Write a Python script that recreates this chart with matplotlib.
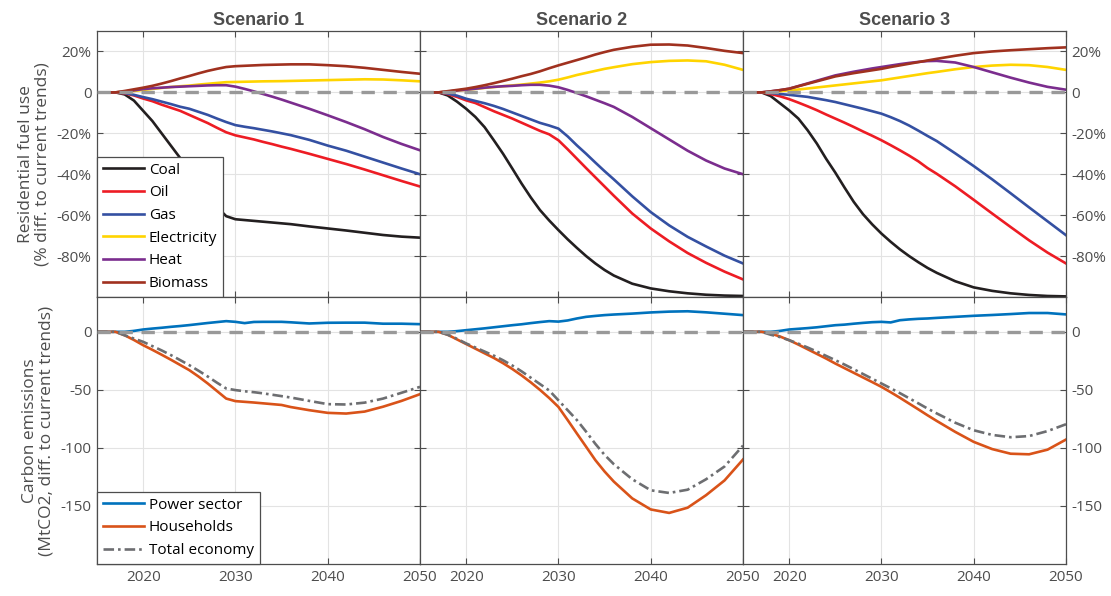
import numpy as np
import matplotlib
matplotlib.use('Agg')
import matplotlib.pyplot as plt

# years sampled for every series
years = [2015, 2017, 2018, 2019, 2020, 2021, 2022, 2023, 2024, 2025, 2026, 2027, 2028, 2029,
         2030, 2031, 2032, 2033, 2034, 2035, 2036, 2038, 2040, 2042, 2044, 2046, 2048, 2050]

fuels = ['Coal', 'Oil', 'Gas', 'Electricity', 'Heat', 'Biomass']
sectors = ['Power sector', 'Households', 'Total economy']
scenarios = ['Scenario 1', 'Scenario 2', 'Scenario 3']

# residential fuel use, % difference to current trends
coal_1 = [0, 0, -1, -4, -9, -14, -20, -26, -32, -38, -44, -50, -56, -60.5,
          -62, -62.4, -62.8, -63.2, -63.6, -64, -64.4, -65.5, -66.5, -67.5, -68.6, -69.7, -70.5, -71]
oil_1 = [0, 0, -0.5, -1.5, -3, -4.3, -6, -7.5, -9, -11, -13, -15, -17.3, -19.5,
         -21, -22, -23, -24.2, -25.3, -26.5, -27.6, -30, -32.5, -35, -37.7, -40.5, -43.3, -46]
gas_1 = [0, 0, -0.3, -1.2, -2.3, -3.3, -4.5, -5.7, -7, -8, -9.5, -11, -12.8, -14.5,
         -16, -16.8, -17.5, -18.3, -19.1, -20, -20.9, -23.2, -26, -28.5, -31.4, -34.3, -37.2, -40]
elec_1 = [0, 0, 0.3, 0.7, 1.2, 1.7, 2.2, 2.6, 3, 3.3, 3.8, 4.2, 4.6, 5,
          5.1, 5.2, 5.3, 5.4, 5.45, 5.5, 5.6, 5.8, 6, 6.2, 6.4, 6.3, 5.9, 5.4]
heat_1 = [0, 0, 0.4, 1, 1.6, 2, 2.3, 2.6, 2.8, 3, 3.2, 3.4, 3.5, 3.5,
          2.8, 1.7, 0.5, -0.8, -2.1, -3.5, -5, -8, -11.2, -14.5, -18, -21.8, -25.2, -28.3]
bio_1 = [0, 0, 0.7, 1.5, 2.3, 3.2, 4.3, 5.5, 6.8, 8, 9.3, 10.5, 11.5, 12.4,
         12.8, 13, 13.2, 13.4, 13.5, 13.6, 13.7, 13.7, 13.3, 12.8, 12, 11, 10, 9.1]

coal_2 = [0, 0, -1.5, -4.5, -8, -12, -17, -23.4, -30, -37.2, -44.5, -51.3, -57.5, -62.6,
          -67.3, -71.8, -76, -80, -83.6, -86.8, -89.5, -93.5, -95.8, -97.2, -98.2, -98.9, -99.3, -99.5]
oil_2 = [0, 0, -0.8, -2.2, -3.9, -5.2, -7.2, -9.2, -11, -12.8, -14.8, -16.8, -18.8, -20.5,
         -23.4, -27.8, -32.4, -37, -41.5, -46, -50.5, -59.2, -66.5, -72.8, -78.5, -83.3, -87.6, -91.4]
gas_2 = [0, 0, -0.5, -1.6, -3.1, -4.2, -5.3, -6.6, -8.1, -9.8, -11.5, -13.2, -14.9, -16.2,
         -17.7, -21.5, -25.9, -30, -34.3, -38.5, -42.5, -50.8, -58.5, -65, -70.6, -75.3, -79.8, -83.6]
elec_2 = [0, 0, 0.3, 0.8, 1.3, 1.7, 2.2, 2.6, 3, 3.4, 3.8, 4.3, 4.8, 5.4,
          6.2, 7.3, 8.5, 9.5, 10.5, 11.5, 12.3, 13.8, 14.8, 15.4, 15.6, 15.2, 13.5, 11]
heat_2 = [0, 0, 0.4, 0.9, 1.3, 1.8, 2.3, 2.7, 3, 3.2, 3.5, 3.7, 3.7, 3.3,
          2.5, 1.2, -0.3, -1.9, -3.6, -5.3, -7.1, -12, -17.5, -23, -28.5, -33.3, -37.2, -40]
bio_2 = [0, 0, 0.6, 1.2, 1.8, 2.6, 3.5, 4.5, 5.6, 6.7, 7.9, 9, 10.3, 11.8,
         13.2, 14.5, 15.8, 17.1, 18.5, 19.7, 20.8, 22.3, 23.3, 23.4, 22.9, 21.7, 20.3, 19.2]

coal_3 = [0, 0, -1.8, -5.3, -8.8, -12.8, -18.5, -25, -32.4, -39.2, -46.5, -53.5, -59.5, -64.5,
          -69, -73, -76.7, -80, -83, -85.8, -88.2, -92.3, -95.3, -97, -98.2, -99, -99.5, -99.7]
oil_3 = [0, 0, -0.8, -1.9, -3.3, -5, -6.8, -8.7, -10.8, -12.8, -14.8, -16.9, -19.1, -21.2,
         -23.4, -25.8, -28.3, -30.9, -33.7, -37, -39.8, -45.9, -52.5, -59.2, -65.8, -72.3, -78.3, -83.6]
gas_3 = [0, 0, -0.3, -0.8, -1.2, -1.7, -2.2, -3, -3.8, -4.7, -5.8, -6.9, -8, -9.2,
         -10.4, -12.1, -14, -16.2, -18.7, -21.3, -23.8, -29.8, -36, -42.5, -49.3, -56.2, -63, -69.8]
elec_3 = [0, 0, 0.2, 0.6, 1, 1.4, 1.9, 2.4, 2.9, 3.4, 3.9, 4.4, 4.9, 5.4,
          5.9, 6.6, 7.3, 8, 8.7, 9.4, 10, 11.3, 12.4, 13.1, 13.5, 13.3, 12.4, 11]
heat_3 = [0, 0, 0.5, 1.1, 1.8, 3.1, 4.4, 5.7, 7, 8.3, 9.2, 10.1, 10.9, 11.7,
          12.4, 13.1, 13.8, 14.4, 14.9, 15.3, 15.4, 14.6, 12.4, 9.8, 7.2, 4.8, 2.7, 1.3]
bio_3 = [0, 0, 0.5, 1.1, 1.8, 3, 4.2, 5.4, 6.6, 7.8, 8.6, 9.4, 10.1, 10.8,
         11.5, 12.4, 13.2, 14, 14.8, 15.6, 16.4, 17.9, 19.2, 20, 20.6, 21.1, 21.6, 22]

# carbon emissions, MtCO2 difference to current trends
power_1 = [0, 0, 0, 0.8, 2, 2.8, 3.5, 4.3, 5, 5.8, 6.7, 7.6, 8.4, 9.2,
           8.6, 7.5, 8.5, 8.6, 8.6, 8.6, 8.2, 7.2, 7.8, 7.9, 7.9, 7, 7, 6.6]
house_1 = [0, 0, -3, -7, -11.5, -15.5, -19.7, -24, -28.5, -33, -38.5, -44.5, -51, -57.5,
           -59.7, -60.3, -60.9, -61.6, -62.3, -63, -64.8, -67.5, -69.8, -70.4, -68.7, -64.5, -59.5, -53.7]
total_1 = [0, 0, -3, -5.8, -8.6, -12.3, -16, -20, -24.3, -28.7, -33.5, -38.5, -43.8, -48.8,
           -50.2, -51.2, -52, -53, -54.2, -55.4, -56.6, -59.5, -62.3, -62.6, -61, -57.5, -52.5, -47.4]

power_2 = [0, 0, 0, 0.6, 1.4, 2.2, 3, 3.9, 4.8, 5.7, 6.5, 7.5, 8.4, 9.2,
           8.8, 9.8, 11.5, 12.9, 13.7, 14.4, 14.9, 15.7, 16.7, 17.4, 17.7, 16.8, 15.6, 14.4]
house_2 = [0, 0, -2.5, -6.5, -10.5, -14.5, -18.5, -22.5, -27, -32, -37.5, -43.5, -50, -57,
           -64.7, -76, -87.6, -99, -110.5, -120.3, -129, -143.5, -153, -156, -151.5, -140.7, -128, -110]
total_2 = [0, 0, -2.5, -6, -10, -13.5, -17, -20.5, -24.5, -29, -34, -39.5, -45, -50.5,
           -59, -67.5, -76, -86, -96.5, -106, -114, -127, -136.5, -138.8, -136, -127, -116, -98]

power_3 = [0, 0, 0, 0.8, 2, 2.6, 3.2, 3.9, 4.8, 5.7, 6.2, 7, 7.7, 8.3,
           8.6, 8.1, 10, 10.7, 11.2, 11.5, 12, 12.9, 13.8, 14.5, 15.3, 16.2, 16.2, 15]
house_3 = [0, 0, -1.5, -4, -7.2, -11, -15, -19, -23, -27.3, -31.3, -35.3, -39.3, -43.3,
           -47.4, -52, -56.8, -61.8, -66.8, -71.9, -76.8, -86.2, -94.8, -101, -105, -105.5, -101.5, -92.8]
total_3 = [0, 0, -2.5, -4.5, -7.2, -10.2, -13.5, -17, -20.7, -24.4, -28.2, -32.2, -36.3, -40.4,
           -44.5, -48.6, -52.8, -57.2, -61.6, -66.1, -70.3, -78.3, -84.8, -88.8, -90.8, -89.8, -85.5, -79.6]

fuel_data = [[coal_1, oil_1, gas_1, elec_1, heat_1, bio_1],
             [coal_2, oil_2, gas_2, elec_2, heat_2, bio_2],
             [coal_3, oil_3, gas_3, elec_3, heat_3, bio_3]]
emis_data = [[power_1, house_1, total_1],
             [power_2, house_2, total_2],
             [power_3, house_3, total_3]]

fuel_colors = ['#231f20', '#ed1c24', '#3450a2', '#ffd400', '#7b2d8e', '#a0311f']
sector_colors = ['#0072bd', '#d95319', '#6d6e71']
sector_styles = ['-', '-', (0, (4, 1.5, 1, 1.5))]

fuel_ticks = [-80, -60, -40, -20, 0, 20]
fuel_labels = ['-80%', '-60%', '-40%', '-20%', '0', '20%']
emis_ticks = [-150, -100, -50, 0]
emis_labels = ['-150', '-100', '-50', '0']

txt = '#4d4d4d'
plt.rcParams['font.family'] = ['Open Sans', 'DejaVu Sans']

fig = plt.figure(figsize=(11.11, 5.96), dpi=100)
W = 323 / 1111
x0 = 97 / 1111
top_y0, top_h = 1 - 297 / 596, (297 - 31) / 596
bot_y0, bot_h = 1 - 564 / 596, (564 - 297) / 596


def style_axis(ax, col, yticks, ylabels, ylim, bottom):
    ax.set_xlim(2015, 2050)
    ax.set_ylim(*ylim)
    ax.set_xticks([2020, 2030, 2040, 2050])
    ax.set_yticks(yticks)
    ax.grid(True, color='#e3e3e3', lw=0.8)
    ax.set_axisbelow(True)
    for s in ax.spines.values():
        s.set_color('#4d4d4d')
        s.set_linewidth(0.9)
    ax.tick_params(direction='in', length=4, width=0.8, color='#4d4d4d',
                   top=True, right=True, labelsize=11, labelcolor=txt,
                   labelleft=(col == 0), labelright=(col == 2),
                   labelbottom=bottom, pad=4)
    if col == 0 or col == 2:
        ax.set_yticklabels(ylabels)
    if bottom:
        ax.set_xticklabels(['2020', '2030', '2040', '2050'])
    # reference line at zero
    ax.axhline(0, color='#999999', lw=2.4, dashes=(4, 2.6), zorder=5)


def add_legend(ax):
    leg = ax.legend(loc='lower left', fontsize=11, handlelength=2.7,
                    handletextpad=0.3, borderaxespad=0, fancybox=False,
                    framealpha=1, borderpad=0.4, labelspacing=0.5,
                    edgecolor='#4d4d4d')
    leg.get_frame().set_linewidth(0.9)
    leg.set_zorder(10)


for col in range(3):
    ax = fig.add_axes([x0 + col * W, top_y0, W, top_h])
    for name, vals, c in zip(fuels, fuel_data[col], fuel_colors):
        ax.plot(years, vals, color=c, lw=1.9, label=name)
    style_axis(ax, col, fuel_ticks, fuel_labels, (-100, 30), False)
    ax.set_title(scenarios[col], fontsize=13, fontweight='bold', color=txt,
                 family='Liberation Sans', pad=4)
    if col == 0:
        ax.set_ylabel('Residential fuel use\n(% diff. to current trends)',
                      fontsize=12.5, color=txt, labelpad=4, linespacing=1.05)
        add_legend(ax)

    ax = fig.add_axes([x0 + col * W, bot_y0, W, bot_h])
    for name, vals, c, ls in zip(sectors, emis_data[col], sector_colors, sector_styles):
        ax.plot(years, vals, color=c, lw=1.9, ls=ls, label=name)
    style_axis(ax, col, emis_ticks, emis_labels, (-200, 30), True)
    if col == 0:
        ax.set_ylabel('Carbon emissions\n(MtCO2, diff. to current trends)',
                      fontsize=12.5, color=txt, labelpad=4, linespacing=1.05)
        add_legend(ax)

fig.savefig('out.png', dpi=100)
